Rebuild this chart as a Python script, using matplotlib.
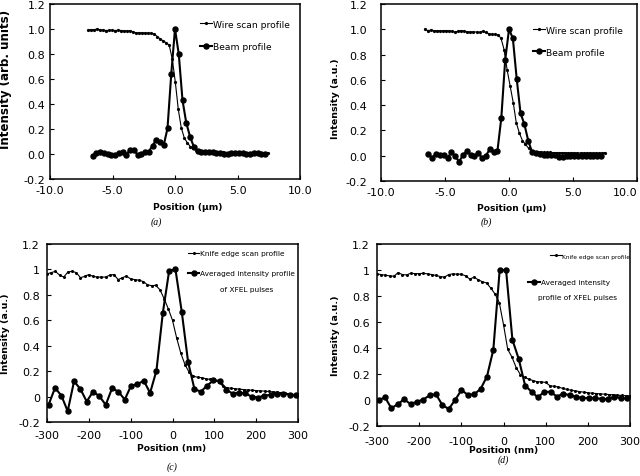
import numpy as np
import matplotlib
matplotlib.use("Agg")
import matplotlib.pyplot as plt
from matplotlib.legend import Legend
from matplotlib.ticker import MultipleLocator, FuncFormatter

plt.rcParams['font.family'] = ['DejaVu Sans']

# ---- (a) wire scan / beam profile, micrometres
wire_a = [0.992, 0.995, 0.995, 1.0, 0.993, 0.99, 0.988, 0.99, 0.99, 0.988,
          0.99, 0.988, 0.985, 0.985, 0.988, 0.975, 0.97, 0.97, 0.97, 0.968,
          0.968, 0.966, 0.96, 0.94, 0.92, 0.905, 0.89, 0.87, 0.76, 0.58,
          0.36, 0.21, 0.13, 0.09, 0.06, 0.045, 0.035, 0.03, 0.028, 0.025,
          0.022, 0.02, 0.018, 0.016, 0.015, 0.013, 0.012, 0.012, 0.011, 0.01,
          0.01, 0.01, 0.009, 0.009, 0.008, 0.008, 0.008, 0.008, 0.007, 0.007,
          0.01]
wire_a_x = np.linspace(-6.94, 7.46, len(wire_a))
beam_a = [-0.013, 0.008, 0.019, 0.011, 0.003, -0.008, -0.005, 0.008, 0.016, -0.008,
          0.035, 0.032, -0.005, 0.003, 0.013, 0.019, 0.067, 0.115, 0.093, 0.072,
          0.205, 0.64, 1.0, 0.80, 0.43, 0.25, 0.14, 0.06, 0.025, 0.02,
          0.02, 0.018, 0.015, 0.012, 0.008, 0.0, 0.0, 0.005, 0.008, 0.008,
          0.005, 0.003, 0.003, 0.005, 0.005, 0.003, -0.003]
beam_a_x = np.linspace(-6.6, 7.2, len(beam_a))

# ---- (b)
wire_b = [1.0, 0.99, 0.993, 0.99, 0.99, 0.988, 0.988, 0.99, 0.988, 0.985,
          0.978, 0.985, 0.99, 0.985, 0.98, 0.978, 0.98, 0.978, 0.975, 0.985,
          0.975, 0.965, 0.96, 0.96, 0.955, 0.93, 0.84, 0.68, 0.55, 0.42,
          0.26, 0.18, 0.12, 0.09, 0.06, 0.035, 0.03, 0.028, 0.027, 0.027,
          0.026, 0.026, 0.025, 0.025, 0.024, 0.024, 0.024, 0.023, 0.023, 0.023,
          0.022, 0.022, 0.022, 0.022, 0.022, 0.021, 0.021, 0.021, 0.022, 0.025]
wire_b_x = np.linspace(-6.6, 7.5, len(wire_b))
beam_b = [0.013, -0.018, 0.016, 0.008, 0.005, -0.016, 0.026, -0.003, -0.048, 0.005,
          0.034, 0.008, -0.003, 0.018, -0.016, 0.0, 0.053, 0.032, 0.04, 0.30,
          0.754, 1.0, 0.93, 0.61, 0.336, 0.25, 0.12, 0.03, 0.02, 0.012,
          0.008, 0.005, 0.008, 0.003, -0.008, -0.01, -0.005, -0.003, 0.0, 0.0,
          -0.003, -0.003, 0.0, 0.0, -0.003, -0.005]
beam_b_x = np.linspace(-6.3, 7.2, len(beam_b))

# ---- (c) knife edge / XFEL pulses, nanometres
knife_c = [0.965, 0.975, 0.985, 0.955, 0.94, 0.98, 0.985, 0.975, 0.935, 0.945,
           0.96, 0.945, 0.94, 0.94, 0.94, 0.955, 0.96, 0.92, 0.935, 0.948,
           0.925, 0.92, 0.915, 0.905, 0.88, 0.872, 0.875, 0.84, 0.77, 0.69,
           0.6, 0.46, 0.34, 0.25, 0.19, 0.16, 0.152, 0.148, 0.14, 0.135,
           0.13, 0.115, 0.085, 0.07, 0.065, 0.062, 0.058, 0.055, 0.052, 0.05,
           0.047, 0.045, 0.043, 0.04, 0.037, 0.034, 0.03, 0.026, 0.022, 0.016,
           0.01]
knife_c_x = np.linspace(-300, 300, len(knife_c))
pulse_c = [-0.063, 0.068, 0.008, -0.115, 0.12, 0.06, -0.039, 0.039, 0.003, -0.065,
           0.065, 0.039, -0.024, 0.086, 0.097, 0.125, 0.029, 0.204, 0.656, 0.988,
           1.0, 0.664, 0.27, 0.058, 0.039, 0.086, 0.128, 0.123, 0.055, 0.024,
           0.031, 0.026, 0.0, -0.008, 0.008, 0.013, 0.024, 0.024, 0.016, 0.01]
pulse_c_x = np.linspace(-296, 295, len(pulse_c))

# ---- (d)
knife_d = [0.97, 0.965, 0.96, 0.955, 0.952, 0.98, 0.965, 0.962, 0.975, 0.972,
           0.972, 0.975, 0.97, 0.965, 0.958, 0.95, 0.945, 0.965, 0.97, 0.968,
           0.968, 0.955, 0.93, 0.945, 0.925, 0.91, 0.9, 0.86, 0.815, 0.75,
           0.58, 0.39, 0.33, 0.25, 0.195, 0.175, 0.16, 0.15, 0.14, 0.14,
           0.135, 0.11, 0.105, 0.1, 0.09, 0.082, 0.075, 0.07, 0.065, 0.06,
           0.056, 0.052, 0.05, 0.047, 0.045, 0.042, 0.04, 0.037, 0.035, 0.033,
           0.032]
knife_d_x = np.linspace(-300, 300, len(knife_d))
pulse_d = [0.0, 0.02, -0.064, -0.031, 0.005, -0.031, -0.013, 0.003, 0.036, 0.044,
           -0.039, -0.069, 0.0, 0.077, 0.039, 0.044, 0.085, 0.18, 0.386, 1.0,
           1.0, 0.463, 0.314, 0.11, 0.064, 0.02, 0.064, 0.062, 0.026, 0.05,
           0.036, 0.026, 0.015, 0.015, 0.013, 0.01, 0.005, 0.026, 0.013, 0.013]
pulse_d_x = np.linspace(-296, 293, len(pulse_d))

W, H = 640, 477
fig = plt.figure(figsize=(W / 100, H / 100), dpi=100)


def box(l, t, r, b):
    return [l / W, 1 - b / H, (r - l) / W, (b - t) / H]


def fig_xy(x, y):
    return x / W, 1 - y / H


def setup(ax, xmax, xstep, xfmt, yfmt, ypad, xpad):
    ax.set_xlim(-xmax, xmax)
    ax.set_ylim(-0.2, 1.2)
    ax.xaxis.set_major_locator(MultipleLocator(xstep))
    ax.yaxis.set_major_locator(MultipleLocator(0.2))
    ax.xaxis.set_major_formatter(FuncFormatter(xfmt))
    ax.yaxis.set_major_formatter(FuncFormatter(yfmt))
    ax.tick_params(direction='in', length=3, width=0.8, labelsize=8)
    ax.tick_params(axis='y', pad=ypad)
    ax.tick_params(axis='x', pad=xpad)
    for s in ax.spines.values():
        s.set_linewidth(1.1)


def key(ax, line, label, x, y, size, hl):
    leg = Legend(ax, [line], [label], loc='center left',
                 bbox_to_anchor=fig_xy(x, y), bbox_transform=fig.transFigure,
                 frameon=False, fontsize=size, handlelength=hl,
                 handletextpad=0.1, borderpad=0, borderaxespad=0)
    ax.add_artist(leg)


def labels(ax, ylab, ysize, yx, yy, xlab, xx, xy):
    ax.set_ylabel(ylab, fontsize=ysize, fontweight='bold', va='center')
    ax.yaxis.set_label_coords(*fig_xy(yx, yy), transform=fig.transFigure)
    ax.set_xlabel(xlab, fontsize=6.6, fontweight='bold', va='center')
    ax.xaxis.set_label_coords(*fig_xy(xx, xy), transform=fig.transFigure)


def f1(v, pos):
    return '%.1f' % v


def fg(v, pos):
    return '%g' % round(v, 2)


# (a)
ax = fig.add_axes(box(50, 5, 300, 180))
setup(ax, 10, 5, f1, f1, 3.5, 4)
lw_, = ax.plot(wire_a_x, wire_a, color='black', lw=0.8, marker='o', ms=1.3)
lb_, = ax.plot(beam_a_x, beam_a, color='black', lw=1.5, marker='o', ms=3.6)
key(ax, lw_, 'Wire scan profile', 200, 25, 6.6, 1.3)
key(ax, lb_, 'Beam profile', 200, 48, 6.6, 1.3)
labels(ax, 'Intensity (arb. units)', 8.6, 6, 79, 'Position (μm)', 188, 208)

# (b)
ax_b = ax = fig.add_axes(box(381, 5, 637, 182))
setup(ax, 10, 5, f1, f1, 10, 4)
lw_, = ax.plot(wire_b_x, wire_b, color='black', lw=0.8, marker='o', ms=1.3)
lb_, = ax.plot(beam_b_x, beam_b, color='black', lw=1.5, marker='o', ms=3.6)
key(ax, lw_, 'Wire scan profile', 533, 31, 6.6, 1.3)
key(ax, lb_, 'Beam profile', 533, 53, 6.6, 1.3)
labels(ax, 'Intensity (a.u.)', 6.8, 336, 99, 'Position (μm)', 512, 209)

# (c)
ax = fig.add_axes(box(47, 245, 298, 423))
setup(ax, 300, 100, fg, fg, 5, 6)
lk, = ax.plot(knife_c_x, knife_c, color='black', lw=0.8, marker='o', ms=1.2)
lp, = ax.plot(pulse_c_x, pulse_c, color='black', lw=1.5, marker='o', ms=3.6)
key(ax, lk, 'Knife edge scan profile', 188, 254, 5.3, 1.5)
key(ax, lp, 'Averaged intensity profile', 188, 274, 5.3, 1.5)
fig.text(*fig_xy(247, 290), 'of XFEL pulses', fontsize=5.3, ha='center', va='center')
labels(ax, 'Intensity (a.u.)', 6.8, 6, 334, 'Position (nm)', 172, 448)

# (d)
ax = fig.add_axes(box(377, 245, 630, 427))
setup(ax, 300, 100, fg, fg, 5, 7)
lk, = ax.plot(knife_d_x, knife_d, color='black', lw=0.8, marker='o', ms=1.2)
lp, = ax.plot(pulse_d_x, pulse_d, color='black', lw=1.5, marker='o', ms=3.6)
key(ax, lk, 'Knife edge scan profile', 550, 257, 4.2, 2.0)
key(ax, lp, 'Averaged intensity', 528, 283, 5.3, 1.6)
fig.text(*fig_xy(578, 298), 'profile of XFEL pulses', fontsize=5.3, ha='center', va='center')
labels(ax, 'Intensity (a.u.)', 6.8, 336, 336, 'Position (nm)', 504, 451)

# panel captions
for cap, cx, cy in [('(a)', 156, 222), ('(b)', 486, 222), ('(c)', 172, 467), ('(d)', 503, 460)]:
    fig.text(*fig_xy(cx, cy), cap, fontsize=7, fontstyle='italic',
             family='Liberation Serif', ha='center', va='center')

# keep the last x label of (b) inside the picture, as in the original
fig.canvas.draw()
for t in ax_b.xaxis.get_major_ticks():
    if abs(t.get_loc() - 10) < 1e-6:
        t.label1.set_horizontalalignment('right')
        t.label1.set_x(10.2)

fig.savefig('out.png', dpi=100)
